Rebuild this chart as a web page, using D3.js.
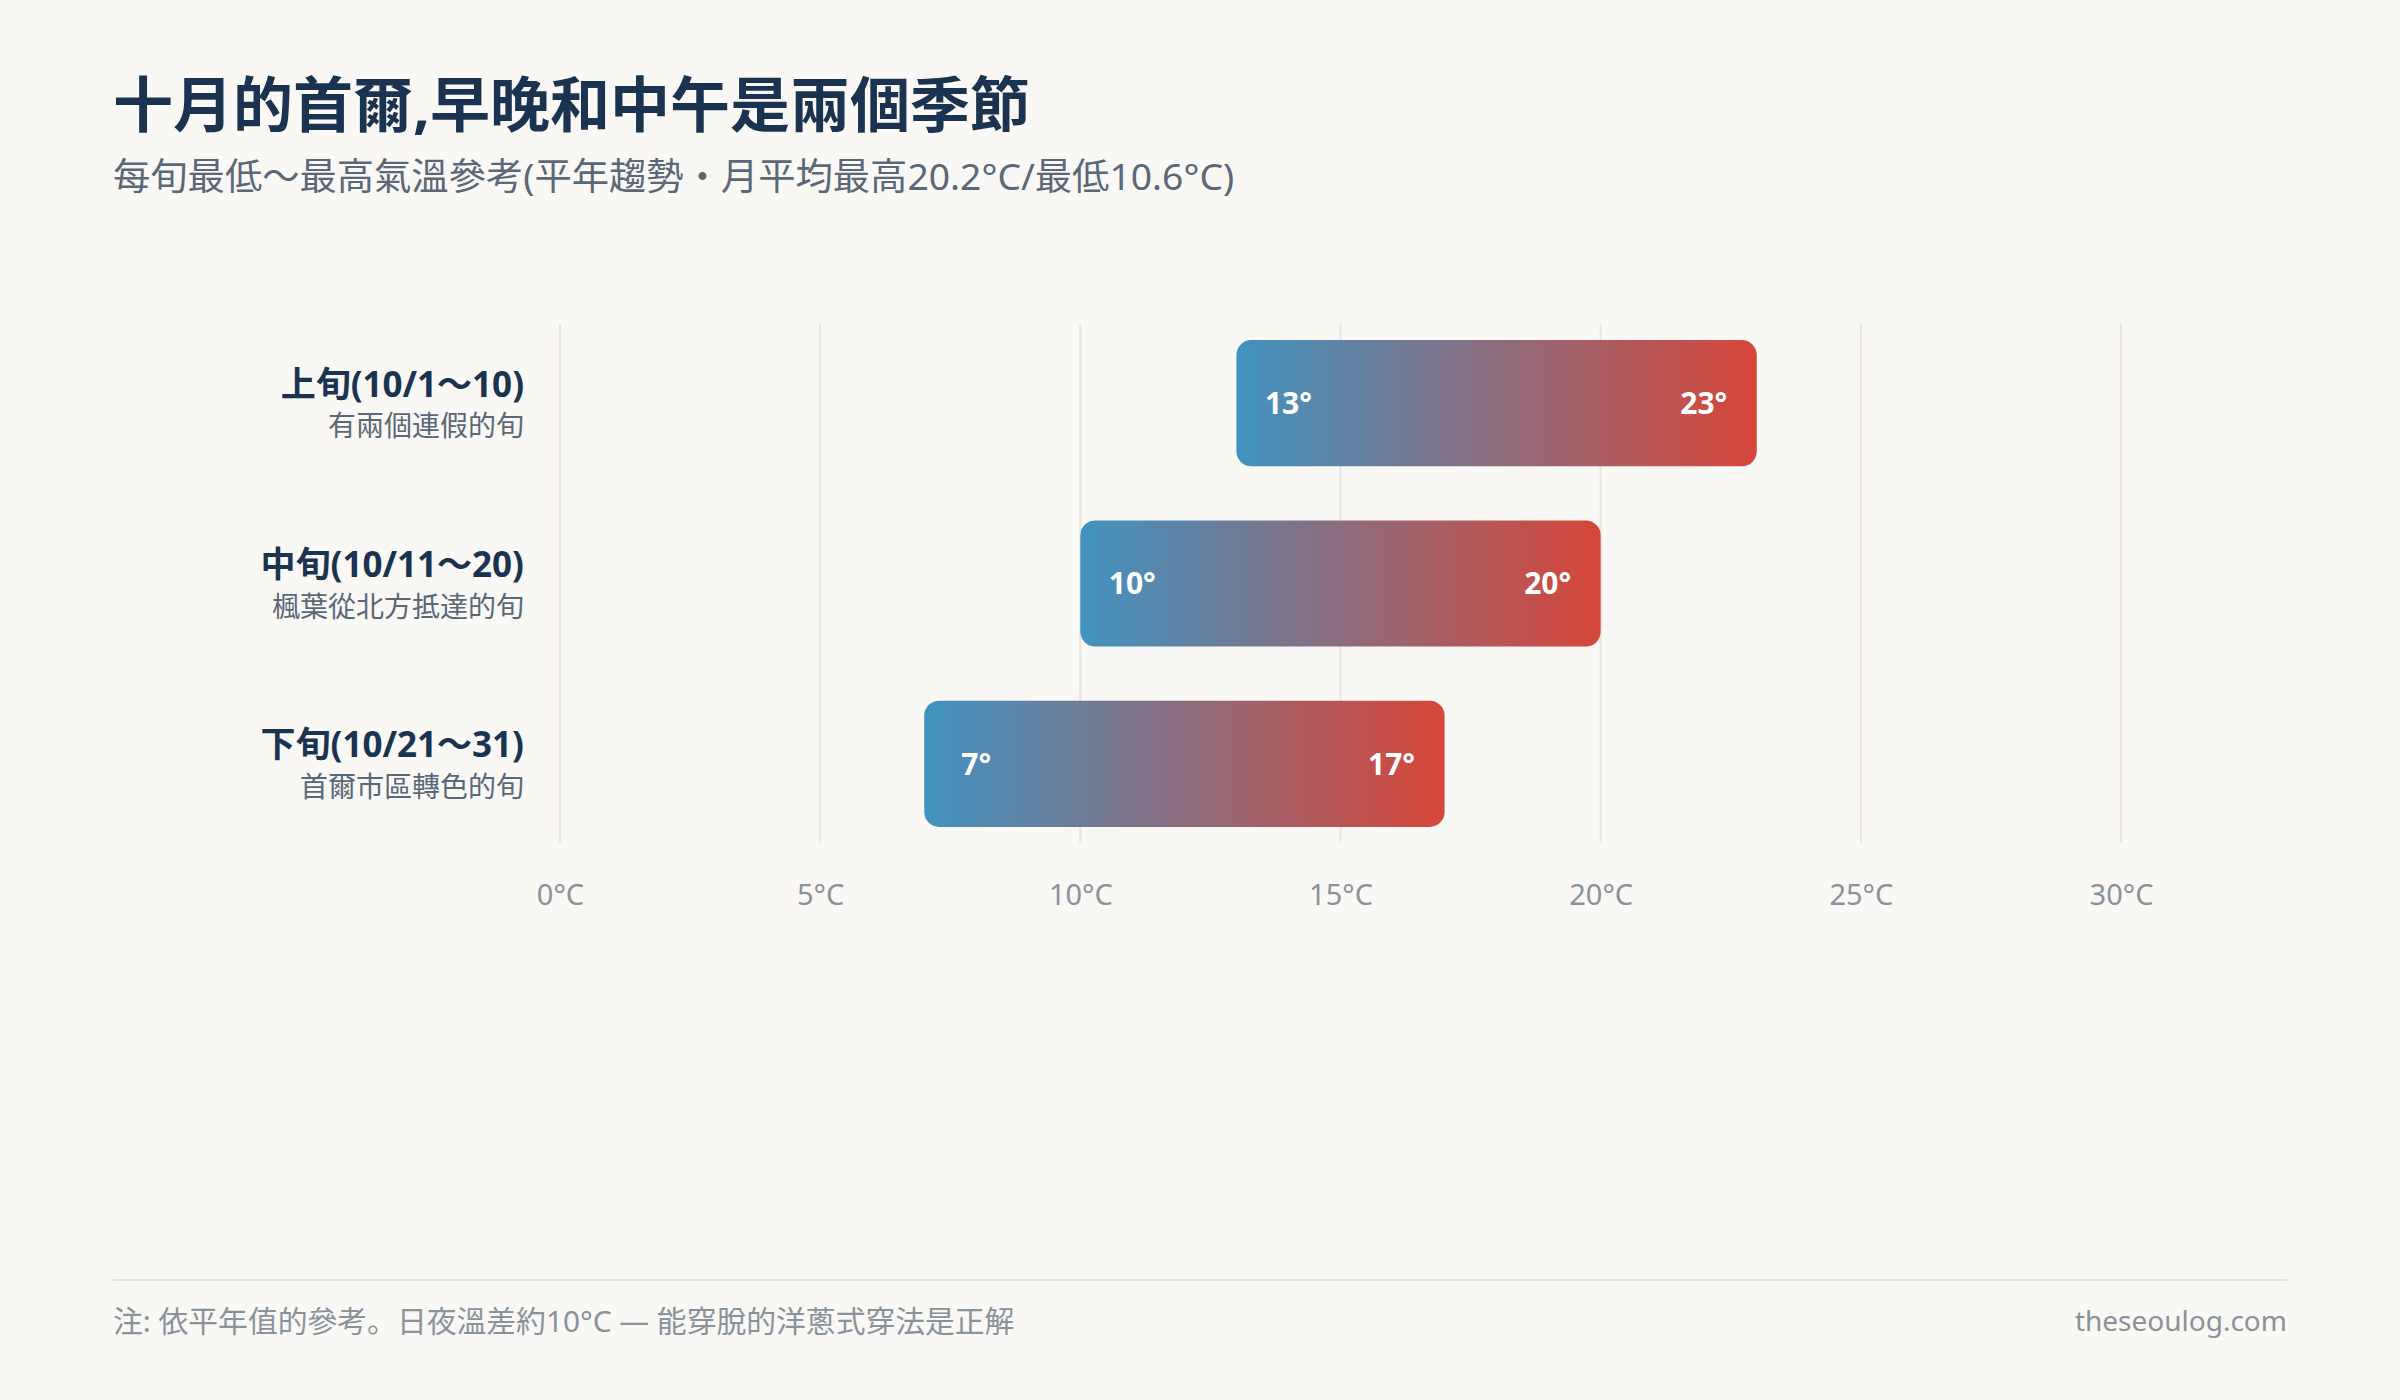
<!DOCTYPE html>
<html>
<head>
<meta charset="utf-8">
<script src="https://cdn.jsdelivr.net/npm/d3@7"></script>
<style>
  html, body { margin: 0; padding: 0; background: #f9f8f4; }
  svg { display: block; font-family: "Noto Sans", "Noto Sans CJK JP", sans-serif; }
</style>
</head>
<body>
<svg id="chart" width="2400" height="1400"></svg>
<script>
// data
var periods = ["上旬(10/1～10)", "中旬(10/11～20)", "下旬(10/21～31)"];
var notes = ["有兩個連假的旬", "楓葉從北方抵達的旬", "首爾市區轉色的旬"];
var lows = [13, 10, 7];
var highs = [23, 20, 17];
var ticks = [0, 5, 10, 15, 20, 25, 30];

var svg = d3.select("#chart"),
    W = 2400,
    H = 1400,
    left = 113,
    right = 2287;

svg.append("rect").attr("width", W).attr("height", H).attr("fill", "#f9f8f4");

// title block
svg.append("text")
    .attr("x", left).attr("y", 127)
    .attr("font-size", 60).attr("font-weight", 700)
    .attr("fill", "#1a3350")
    .text("十月的首爾,早晚和中午是兩個季節");
svg.append("text")
    .attr("x", left).attr("y", 190)
    .attr("font-size", 37.3)
    .attr("fill", "#5b6878")
    .text("每旬最低～最高氣溫參考(平年趨勢・月平均最高20.2°C/最低10.6°C)");

var x = d3.scaleLinear().domain([0, 30]).range([560, 2121]),
    y = d3.scaleBand().domain(d3.range(periods.length)).range([313, 854])
        .paddingInner(0.3).paddingOuter(0.15);

var defs = svg.append("defs");
var grad = defs.append("linearGradient")
    .attr("id", "warm")
    .attr("x1", "0%").attr("x2", "100%").attr("y1", "0%").attr("y2", "0%");
grad.append("stop").attr("offset", "0%").attr("stop-color", "#4193c0");
grad.append("stop").attr("offset", "100%").attr("stop-color", "#d7463a");

// grid
svg.append("g").selectAll("line")
    .data(ticks)
    .join("line")
    .attr("x1", function(d) { return x(d); })
    .attr("x2", function(d) { return x(d); })
    .attr("y1", 324)
    .attr("y2", 843)
    .attr("stroke", "#e8e5df")
    .attr("stroke-width", 2);

// axis
var axis = svg.append("g")
    .attr("transform", "translate(0,843)")
    .call(d3.axisBottom(x).tickValues(ticks).tickSize(0).tickPadding(41)
        .tickFormat(function(d) { return d + "°C"; }));
axis.select(".domain").remove();
axis.selectAll("text")
    .attr("font-family", "'Noto Sans', 'Noto Sans CJK JP', sans-serif")
    .attr("font-size", 29)
    .attr("fill", "#8a929c");

// bars
var rows = svg.append("g").selectAll("g")
    .data(d3.range(periods.length))
    .join("g");

rows.append("rect")
    .attr("x", function(i) { return x(lows[i]); })
    .attr("y", function(i) { return y(i); })
    .attr("width", function(i) { return x(highs[i]) - x(lows[i]); })
    .attr("height", y.bandwidth())
    .attr("rx", 15)
    .attr("fill", "url(#warm)");

// value labels, centred a fixed step inside each end
rows.append("text")
    .attr("x", function(i) { return x(lows[i]) + 52; })
    .attr("y", function(i) { return y(i) + y.bandwidth() / 2; })
    .attr("dy", "0.36em")
    .attr("text-anchor", "middle")
    .attr("font-size", 30).attr("font-weight", 700)
    .attr("fill", "#fff")
    .text(function(i) { return lows[i] + "°"; });

rows.append("text")
    .attr("x", function(i) { return x(highs[i]) - 53; })
    .attr("y", function(i) { return y(i) + y.bandwidth() / 2; })
    .attr("dy", "0.36em")
    .attr("text-anchor", "middle")
    .attr("font-size", 30).attr("font-weight", 700)
    .attr("fill", "#fff")
    .text(function(i) { return highs[i] + "°"; });

// category labels
rows.append("text")
    .attr("x", 524)
    .attr("y", function(i) { return y(i) + y.bandwidth() / 2 - 19; })
    .attr("dy", "0.36em")
    .attr("text-anchor", "end")
    .attr("font-size", 35).attr("font-weight", 700)
    .attr("fill", "#1a3350")
    .text(function(i) { return periods[i]; });

rows.append("text")
    .attr("x", 524)
    .attr("y", function(i) { return y(i) + y.bandwidth() / 2 + 23; })
    .attr("dy", "0.36em")
    .attr("text-anchor", "end")
    .attr("font-size", 28)
    .attr("fill", "#5b6878")
    .text(function(i) { return notes[i]; });

// footer
svg.append("line")
    .attr("x1", left).attr("x2", right)
    .attr("y1", 1280).attr("y2", 1280)
    .attr("stroke", "#e6e3dd").attr("stroke-width", 2);
svg.append("text")
    .attr("x", left).attr("y", 1321)
    .attr("dy", "0.36em")
    .attr("font-size", 29.8)
    .attr("fill", "#8a929c")
    .text("注: 依平年值的參考。日夜溫差約10°C — 能穿脫的洋蔥式穿法是正解");
svg.append("text")
    .attr("x", right).attr("y", 1321)
    .attr("dy", "0.36em")
    .attr("text-anchor", "end")
    .attr("font-size", 28)
    .attr("fill", "#8a929c")
    .text("theseoulog.com");
</script>
</body>
</html>
